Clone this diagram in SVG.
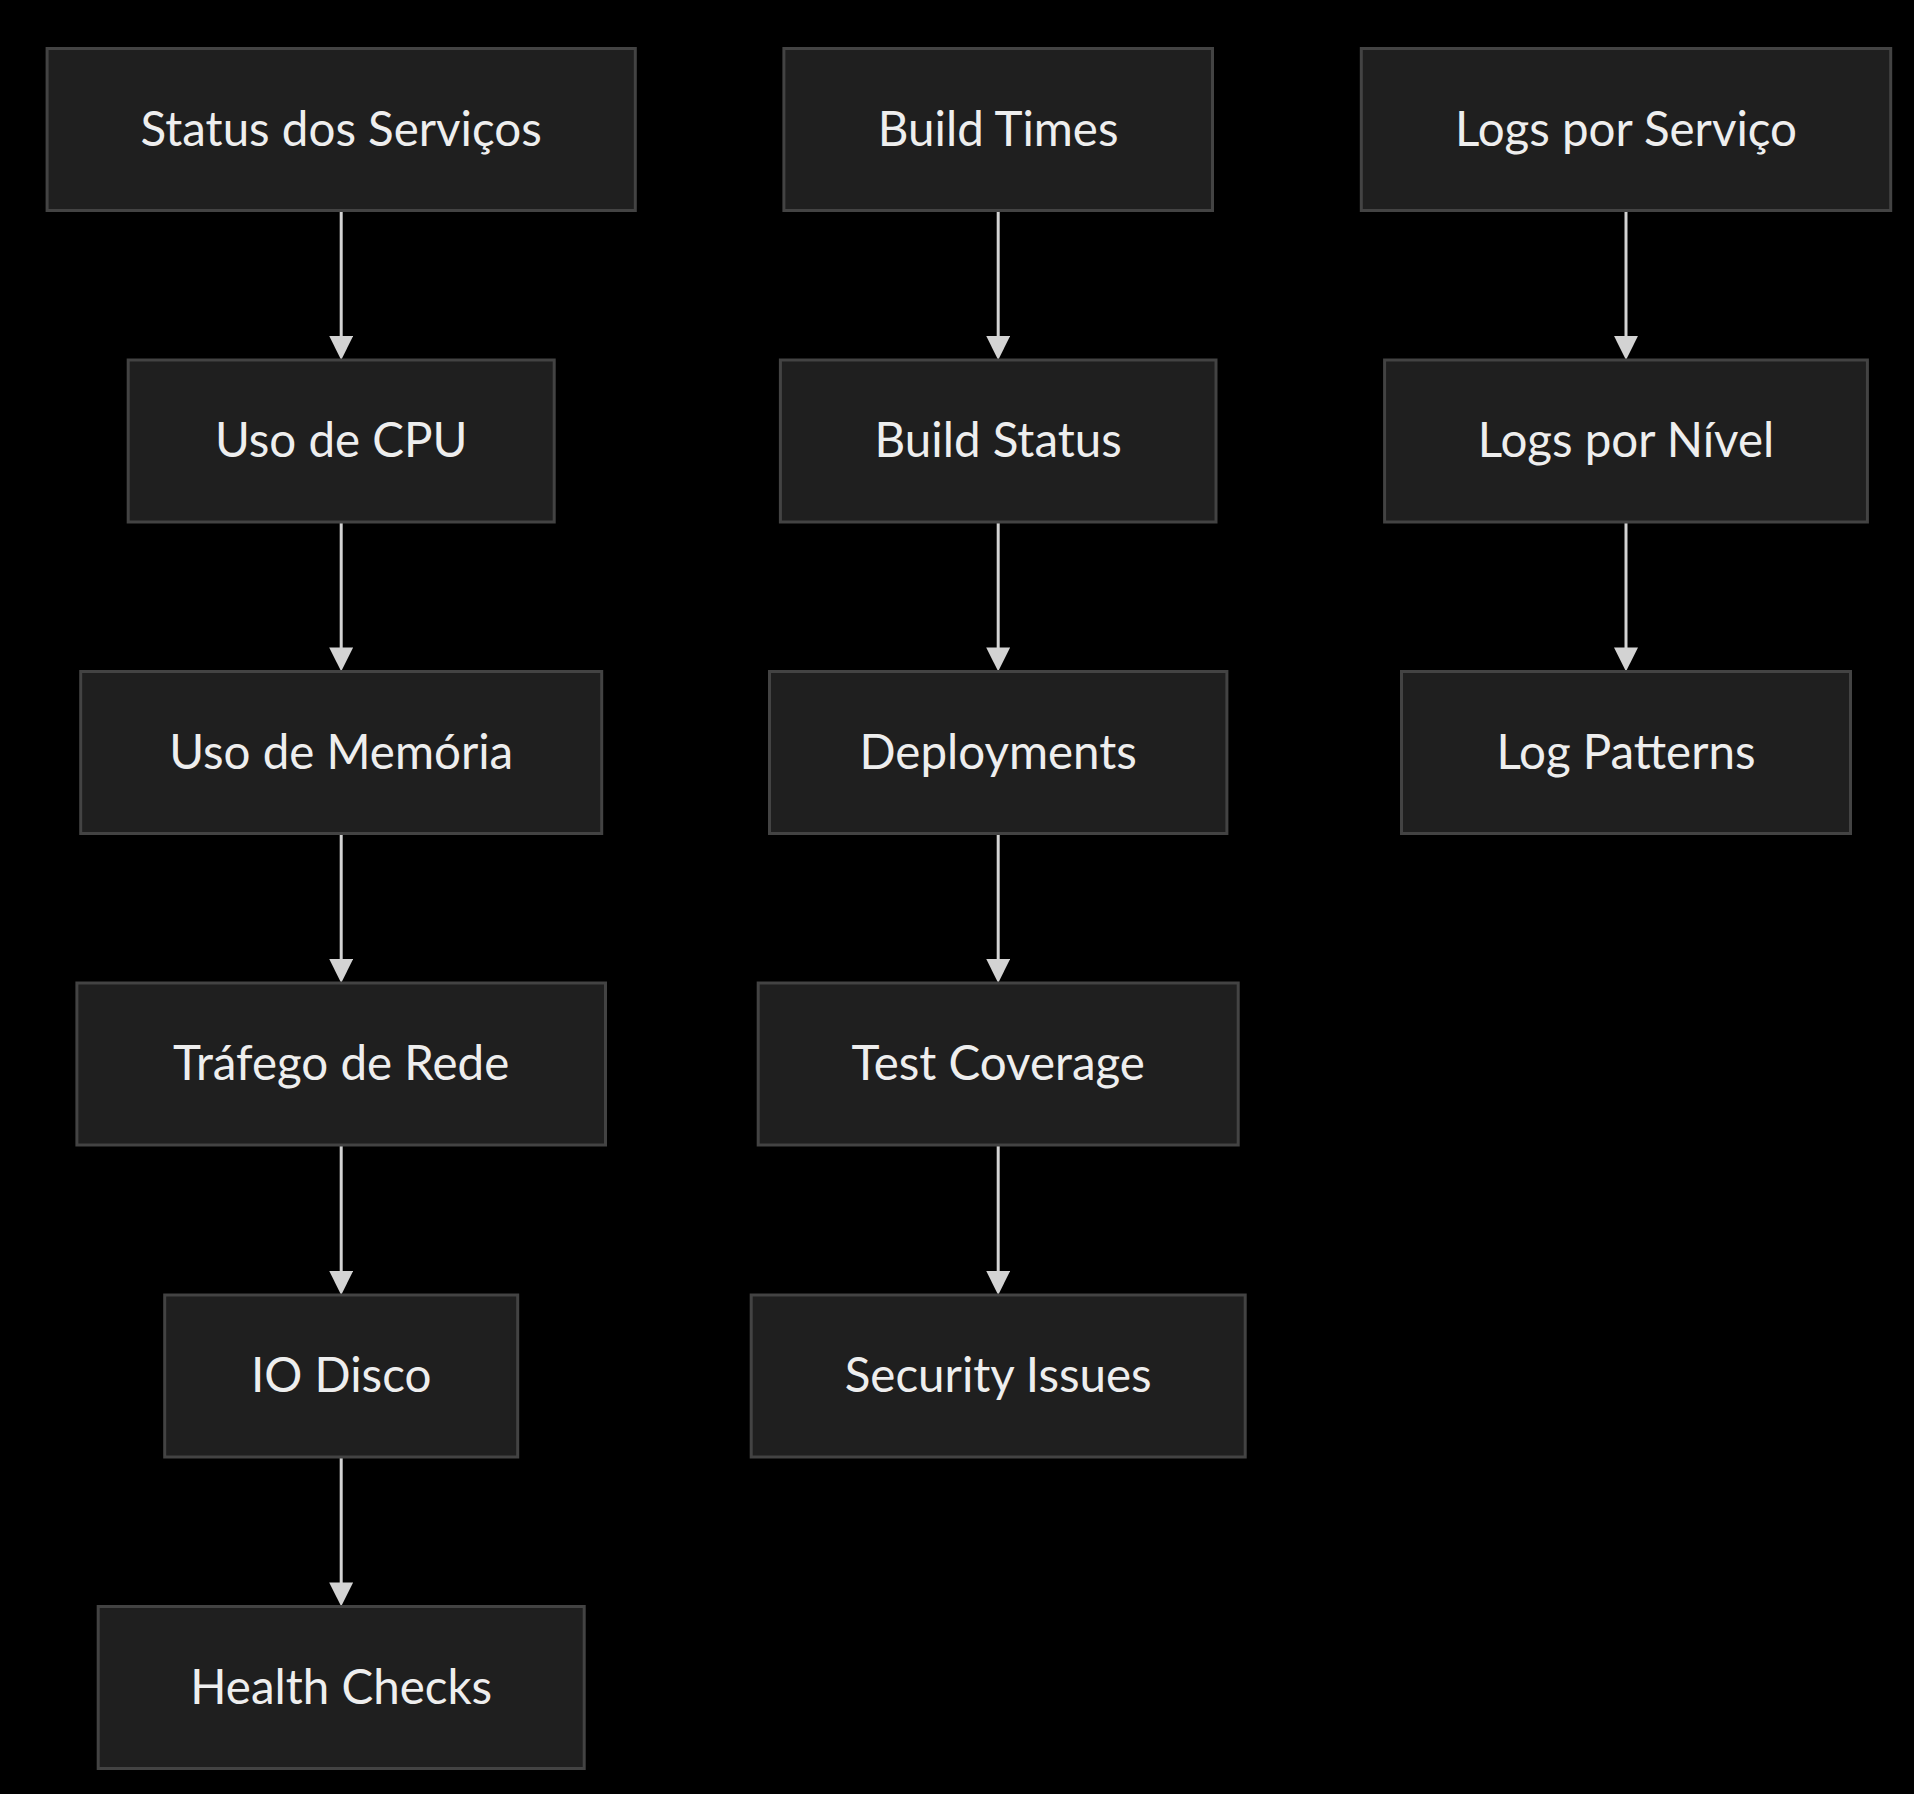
<svg xmlns="http://www.w3.org/2000/svg" width="1914" height="1794" viewBox="0 0 1914 1794">
<style>
.node rect{fill:#1f1f1f;stroke:#434343;stroke-width:3}
.node text{font-family:"Lato","Open Sans","Liberation Sans",sans-serif;font-size:47.5px;fill:#eeeeee;text-anchor:middle}
.edge{stroke:#d3d3d3;stroke-width:3;fill:none;marker-end:url(#arrow)}
</style>
<defs>
<marker id="arrow" viewBox="0 0 10 10" refX="1.7" refY="5" markerUnits="userSpaceOnUse" markerWidth="24" markerHeight="24" orient="auto">
<path d="M0,0 L10,5 L0,10 z" fill="#d3d3d3"/>
</marker>
</defs>
<rect x="0" y="0" width="1914" height="1794" fill="#000000"/>
<g id="connectors">
<line class="edge" x1="341.2" y1="210.5" x2="341.2" y2="340"/>
<line class="edge" x1="341.2" y1="522" x2="341.2" y2="651.5"/>
<line class="edge" x1="341.2" y1="833.5" x2="341.2" y2="963"/>
<line class="edge" x1="341.2" y1="1145" x2="341.2" y2="1275"/>
<line class="edge" x1="341.2" y1="1457" x2="341.2" y2="1586.5"/>
<line class="edge" x1="998.2" y1="210.5" x2="998.2" y2="340"/>
<line class="edge" x1="998.2" y1="522" x2="998.2" y2="651.5"/>
<line class="edge" x1="998.2" y1="833.5" x2="998.2" y2="963"/>
<line class="edge" x1="998.2" y1="1145" x2="998.2" y2="1275"/>
<line class="edge" x1="1626" y1="210.5" x2="1626" y2="340"/>
<line class="edge" x1="1626" y1="522" x2="1626" y2="651.5"/>
</g>
<g id="status" class="node"><rect x="47.1" y="48.5" width="588.2" height="162"/><text x="341.2" y="145.5">Status dos Serviços</text></g>
<g id="cpu" class="node"><rect x="128.2" y="360" width="426" height="162"/><text x="341.2" y="457">Uso de CPU</text></g>
<g id="memoria" class="node"><rect x="80.7" y="671.5" width="521" height="162"/><text x="341.2" y="768.5">Uso de Memória</text></g>
<g id="trafego" class="node"><rect x="76.9" y="983" width="528.6" height="162"/><text x="341.2" y="1080">Tráfego de Rede</text></g>
<g id="io" class="node"><rect x="164.7" y="1295" width="353" height="162"/><text x="341.2" y="1392">IO Disco</text></g>
<g id="health" class="node"><rect x="98.2" y="1606.5" width="486" height="162"/><text x="341.2" y="1703.5">Health Checks</text></g>
<g id="buildtimes" class="node"><rect x="783.9" y="48.5" width="428.6" height="162"/><text x="998.2" y="145.5">Build Times</text></g>
<g id="buildstatus" class="node"><rect x="780.4" y="360" width="435.6" height="162"/><text x="998.2" y="457">Build Status</text></g>
<g id="deployments" class="node"><rect x="769.5" y="671.5" width="457.4" height="162"/><text x="998.2" y="768.5">Deployments</text></g>
<g id="coverage" class="node"><rect x="758.2" y="983" width="480" height="162"/><text x="998.2" y="1080">Test Coverage</text></g>
<g id="security" class="node"><rect x="751.2" y="1295" width="494" height="162"/><text x="998.2" y="1392">Security Issues</text></g>
<g id="logsservico" class="node"><rect x="1361.3" y="48.5" width="529.4" height="162"/><text x="1626" y="145.5">Logs por Serviço</text></g>
<g id="logsnivel" class="node"><rect x="1384.6" y="360" width="482.8" height="162"/><text x="1626" y="457">Logs por Nível</text></g>
<g id="logpatterns" class="node"><rect x="1401.5" y="671.5" width="449" height="162"/><text x="1626" y="768.5">Log Patterns</text></g>
</svg>
